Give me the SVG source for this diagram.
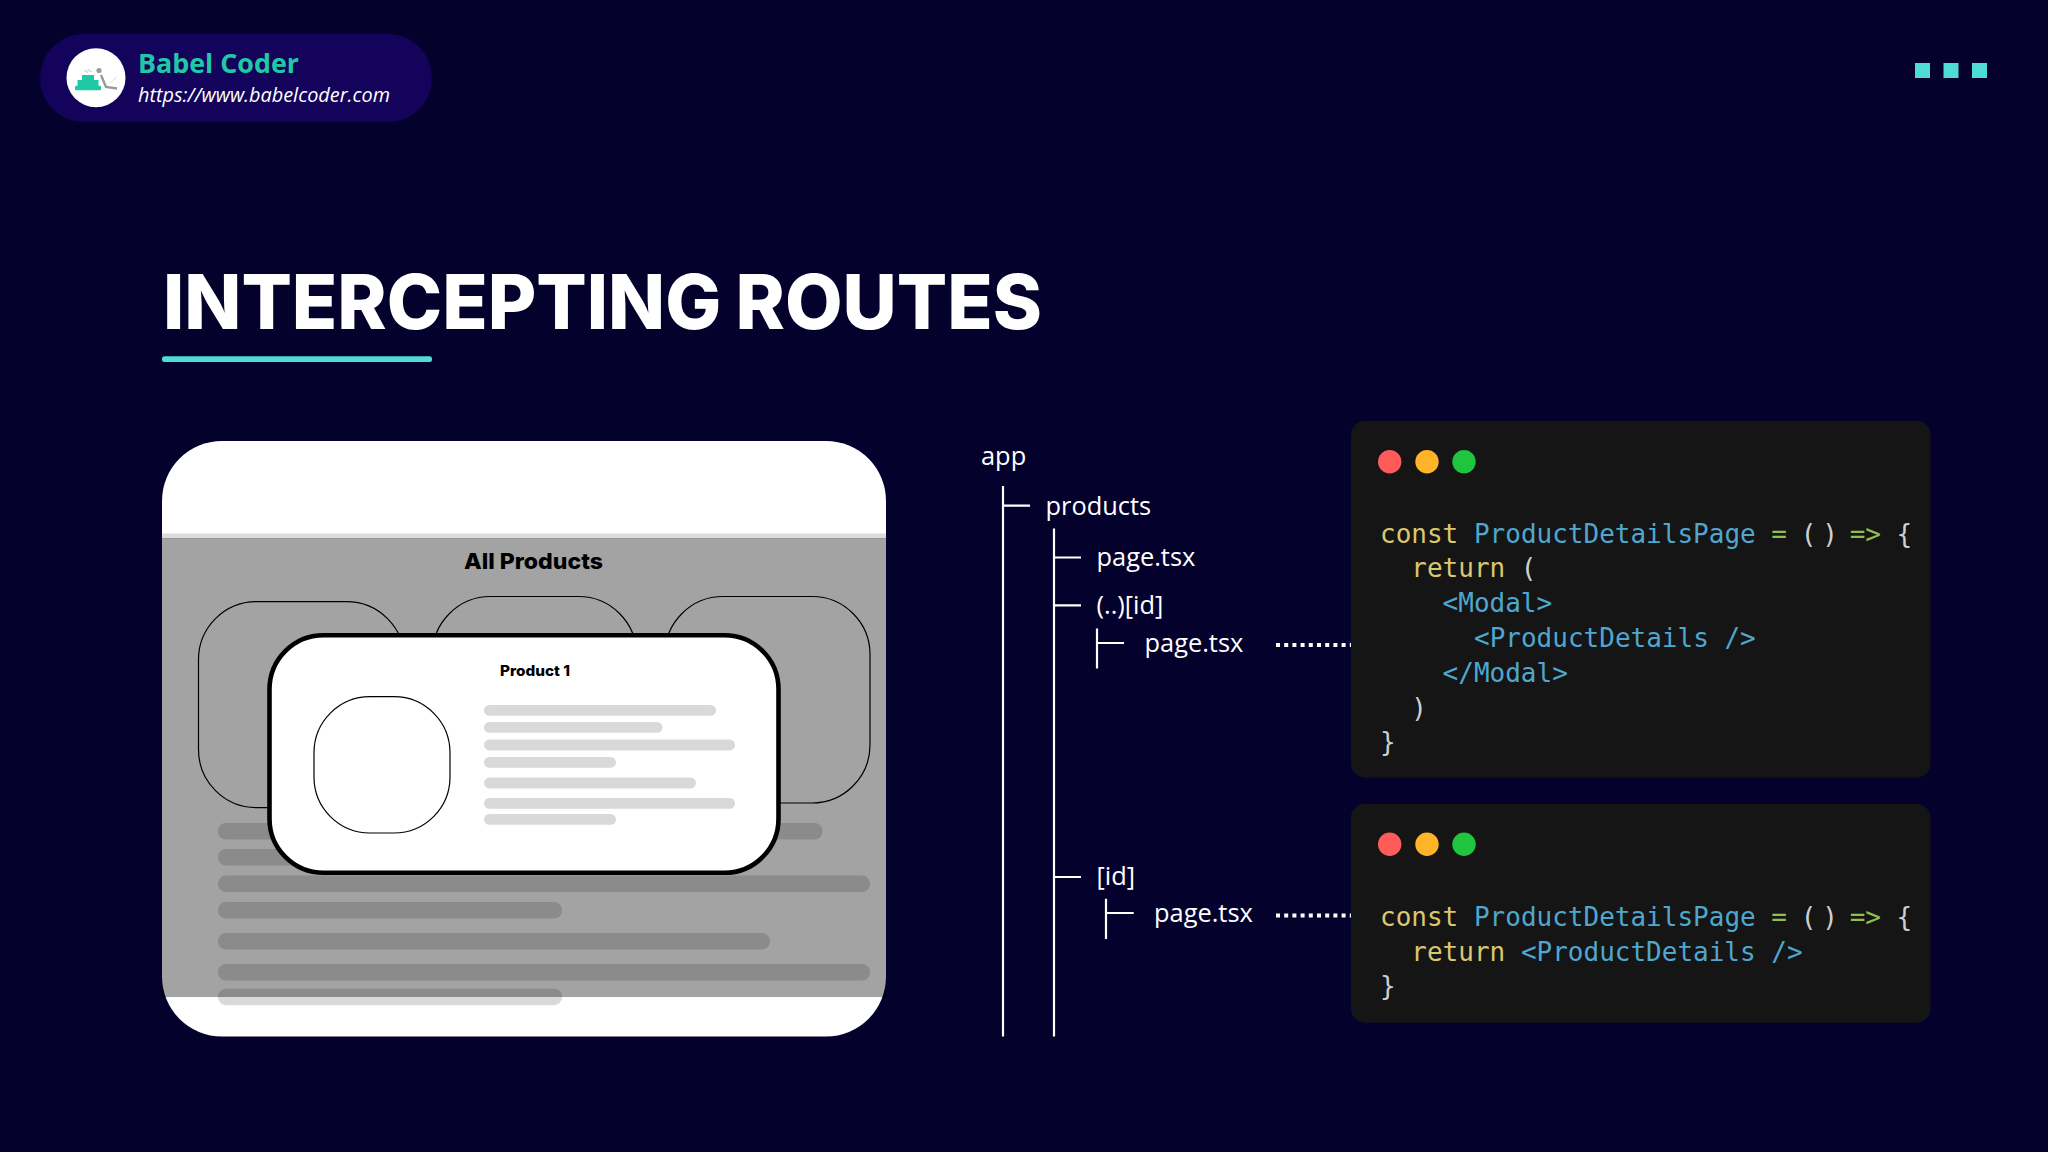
<svg xmlns="http://www.w3.org/2000/svg" width="2048" height="1152" viewBox="0 0 2048 1152">
<style>
.tree{font-family:"Open Sans","Noto Sans",sans-serif;font-size:25.4px;fill:#fff}
.ln{stroke:#fff;stroke-width:2.2;fill:none}
.dot{stroke:#fff;stroke-width:4;stroke-dasharray:4 4.2;fill:none}
.panel{fill:#151515}
.code{font-family:"DejaVu Sans Mono",monospace;font-size:26px;fill:#cfcfcf}
.k{fill:#dcc76f}.b{fill:#4fa7cf}.g{fill:#8fbf4f}
.bar{fill:#d9d9d9}
.pc{fill:none;stroke:#000;stroke-width:1.2}
.head{font-family:Inter,"Liberation Sans",sans-serif;font-weight:800;fill:#000}
.sq{fill:#4fdcd6}
</style>
<rect width="2048" height="1152" fill="#05012d"/>
<g id="brand">
<rect x="40" y="34" width="392" height="88" rx="44" fill="#14035a"/>
<circle cx="96" cy="77.7" r="29.5" fill="#fff"/>
<rect x="82" y="75" width="12" height="5.5" fill="#20c9a6"/>
<rect x="77.5" y="80" width="21" height="6" fill="#20c9a6"/>
<rect x="75" y="85.7" width="26" height="4.6" rx="1" fill="#20c9a6"/>
<circle cx="99" cy="70.5" r="2.6" fill="#9a9a9a"/>
<path d="M101 75 L106 87 L117 88.5" fill="none" stroke="#9a9a9a" stroke-width="2.4"/>
<path d="M110 83 L117 77" fill="none" stroke="#d5d5d5" stroke-width="0.8"/>
<text x="88" y="72.5" text-anchor="middle" font-family="'Open Sans',sans-serif" font-size="5" fill="#8a8a8a">&lt;/&gt;</text>
<text x="138" y="73" font-family="'Open Sans',sans-serif" font-weight="700" font-size="27" fill="#20c9a6" textLength="161" lengthAdjust="spacingAndGlyphs">Babel Coder</text>
<text x="138" y="102" font-family="'Open Sans',sans-serif" font-style="italic" font-size="19.5" fill="#fff" textLength="252" lengthAdjust="spacingAndGlyphs">https://www.babelcoder.com</text>
</g>
<g id="menu-dots">
<rect class="sq" x="1915" y="63" width="15" height="15"/>
<rect class="sq" x="1943.5" y="63" width="15" height="15"/>
<rect class="sq" x="1972" y="63" width="15" height="15"/>
</g>
<g id="title">
<text x="163" y="329" font-family="Inter,'Liberation Sans',sans-serif" font-weight="800" font-size="76" word-spacing="-2" fill="#fff" textLength="879" lengthAdjust="spacingAndGlyphs">INTERCEPTING ROUTES</text>
<rect x="162" y="356.3" width="270" height="5.7" rx="2.5" class="sq"/>
</g>
<g id="browser">
<rect x="162" y="441" width="724" height="595.5" rx="60" fill="#fff"/>
<rect class="pc" x="198.5" y="601.6" width="206" height="206" rx="58"/>
<rect class="pc" x="432.5" y="596.5" width="204" height="206" rx="58"/>
<rect class="pc" x="665" y="596.5" width="205" height="206.5" rx="58"/>
<rect class="bar" x="218" y="823" width="604.5" height="16.5" rx="8"/>
<rect class="bar" x="218" y="849" width="200" height="16.5" rx="8"/>
<rect class="bar" x="218" y="875.5" width="652" height="16.5" rx="8"/>
<rect class="bar" x="218" y="902" width="344" height="16.5" rx="8"/>
<rect class="bar" x="218" y="933" width="552" height="16.5" rx="8"/>
<rect class="bar" x="218" y="964" width="652" height="16.5" rx="8"/>
<rect class="bar" x="218" y="988.7" width="344" height="16.5" rx="8"/>
<rect x="162" y="533.5" width="724" height="5" fill="#dcdcdc"/>
<rect x="162" y="538" width="724" height="459" fill="#000" opacity=".36"/>
<text class="head" x="533.5" y="569" text-anchor="middle" font-size="22" textLength="139" lengthAdjust="spacingAndGlyphs">All Products</text>
</g>
<g id="modal">
<rect x="269.5" y="635.2" width="509" height="237.6" rx="54" fill="#fff" stroke="#000" stroke-width="4.6"/>
<text class="head" x="535" y="676" text-anchor="middle" font-size="14.5" textLength="70" lengthAdjust="spacingAndGlyphs">Product 1</text>
<rect class="pc" x="314" y="696.7" width="136" height="136.3" rx="56"/>
<rect class="bar" x="484" y="705" width="232" height="10.8" rx="5.4"/>
<rect class="bar" x="484" y="722" width="178.5" height="10.8" rx="5.4"/>
<rect class="bar" x="484" y="739.6" width="251" height="10.8" rx="5.4"/>
<rect class="bar" x="484" y="757" width="132" height="10.8" rx="5.4"/>
<rect class="bar" x="484" y="777.6" width="212" height="10.8" rx="5.4"/>
<rect class="bar" x="484" y="798" width="251" height="10.8" rx="5.4"/>
<rect class="bar" x="484" y="814" width="132" height="10.8" rx="5.4"/>
</g>
<g id="connectors">
<path class="ln" d="M1003 486V1036.5M1003 505.7H1030"/>
<path class="ln" d="M1054 528.6V1036.5M1054 557.5H1081M1054 605.3H1081M1054 877H1081"/>
<path class="ln" d="M1097 628.6V668.6M1097 643H1124"/>
<path class="ln" d="M1106 898.8V939M1106 913H1133.7"/>
<path class="dot" d="M1276 645H1352"/>
<path class="dot" d="M1276 915.5H1352"/>
</g>
<g id="tree-app"><text class="tree" x="981" y="465">app</text></g>
<g id="tree-products"><text class="tree" x="1045.5" y="514.5">products</text></g>
<g id="tree-page"><text class="tree" x="1096.5" y="565.7">page.tsx</text></g>
<g id="tree-intercept"><text class="tree" x="1096.5" y="613.7">(..)[id]</text></g>
<g id="tree-intercept-page"><text class="tree" x="1144.5" y="652">page.tsx</text></g>
<g id="tree-id"><text class="tree" x="1096.5" y="885">[id]</text></g>
<g id="tree-id-page"><text class="tree" x="1154" y="922">page.tsx</text></g>
<g id="code-intercept">
<rect class="panel" x="1351" y="421" width="579.5" height="356.7" rx="14"/>
<circle cx="1389.7" cy="461.7" r="11.7" fill="#ff5b5b"/>
<circle cx="1427" cy="461.7" r="11.7" fill="#ffb326"/>
<circle cx="1464" cy="461.7" r="11.7" fill="#1fc53f"/>
<text class="code" x="1380" y="543"><tspan class="k">const</tspan> <tspan class="b">ProductDetailsPage</tspan> <tspan class="g">=</tspan> <tspan dx="-2">(</tspan><tspan dx="6">)</tspan><tspan dx="-4"> </tspan><tspan class="g">=&gt;</tspan> {</text>
<text class="code" x="1411.3" y="577.2"><tspan class="k">return</tspan> (</text>
<text class="code b" x="1442.6" y="612.4">&lt;Modal&gt;</text>
<text class="code b" x="1474" y="647.4">&lt;ProductDetails /&gt;</text>
<text class="code b" x="1442.6" y="681.8">&lt;/Modal&gt;</text>
<text class="code" x="1411.3" y="716.5">)</text>
<text class="code" x="1380" y="751">}</text>
</g>
<g id="code-page">
<rect class="panel" x="1351" y="804" width="579.5" height="218.7" rx="14"/>
<circle cx="1389.7" cy="844.3" r="11.7" fill="#ff5b5b"/>
<circle cx="1427" cy="844.3" r="11.7" fill="#ffb326"/>
<circle cx="1464" cy="844.3" r="11.7" fill="#1fc53f"/>
<text class="code" x="1380" y="926"><tspan class="k">const</tspan> <tspan class="b">ProductDetailsPage</tspan> <tspan class="g">=</tspan> <tspan dx="-2">(</tspan><tspan dx="6">)</tspan><tspan dx="-4"> </tspan><tspan class="g">=&gt;</tspan> {</text>
<text class="code" x="1411.3" y="961"><tspan class="k">return</tspan> <tspan class="b">&lt;ProductDetails /&gt;</tspan></text>
<text class="code" x="1380" y="994.5">}</text>
</g>
</svg>
